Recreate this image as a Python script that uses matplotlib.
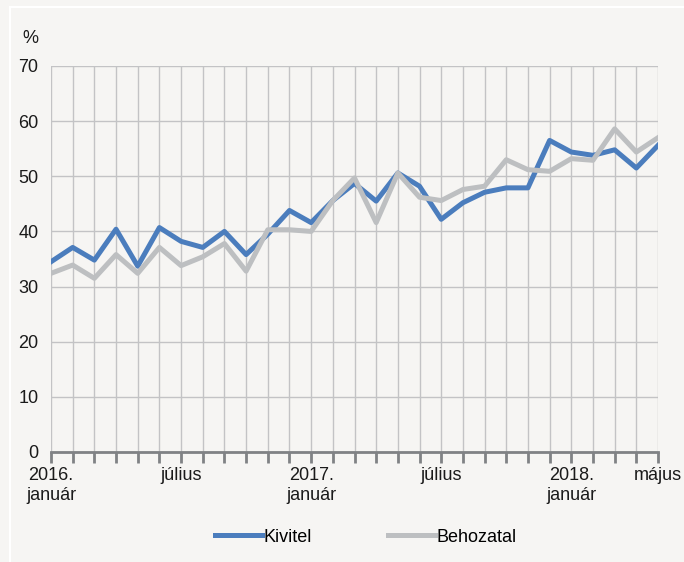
import matplotlib.pyplot as plt
from matplotlib.patches import Rectangle
from matplotlib import font_manager

# keskeny betű, ha van; különben Liberation Sans
csaladok = {f.name for f in font_manager.fontManager.ttflist}
if "Liberation Sans Narrow" in csaladok:
    betu = ["Liberation Sans Narrow", "DejaVu Sans"]
    meret = 14
else:
    betu = ["Liberation Sans", "DejaVu Sans"]
    meret = 13
plt.rcParams['font.family'] = betu

# havi adatok, 2016. január - 2018. május
honapok = list(range(29))
kivitel = [34.5, 37.1, 34.8, 40.4, 33.7, 40.7, 38.2, 37.1, 40.0, 35.8,
           39.5, 43.8, 41.6, 45.6, 48.7, 45.5, 50.6, 48.2, 42.2, 45.2,
           47.1, 47.9, 47.9, 56.5, 54.4, 53.8, 54.8, 51.5, 55.6]
behozatal = [32.4, 33.9, 31.5, 35.8, 32.4, 37.1, 33.8, 35.4, 37.8, 32.8,
             40.3, 40.3, 40.0, 45.6, 49.7, 41.6, 50.6, 46.2, 45.6, 47.6,
             48.2, 53.0, 51.2, 50.9, 53.2, 52.9, 58.6, 54.4, 57.0]
cimkek = {0: "2016.\njanuár", 6: "július", 12: "2017.\njanuár",
          18: "július", 24: "2018.\njanuár", 28: "május"}

hatter = "#f6f5f3"
kek = "#4b7dbd"
szurke = "#bdbfc1"

fig = plt.figure(figsize=(6.84, 5.62), dpi=100, facecolor=hatter)
fig.patches.append(Rectangle((10 / 684, -0.1), 1.2, 1 - 7 / 562 + 0.1,
                             transform=fig.transFigure, facecolor="none",
                             edgecolor="white", linewidth=1.5))
ax = fig.add_axes([51 / 684, 1 - 452 / 562, 607 / 684, 386 / 562])
ax.set_facecolor(hatter)

ax.plot(honapok, kivitel, color=kek, lw=3.6, label="Kivitel", zorder=3)
ax.plot(honapok, behozatal, color=szurke, lw=3.6, label="Behozatal", zorder=3)

ax.set_xlim(0, 28)
ax.set_ylim(0, 70)
ax.set_yticks(range(0, 71, 10))
ax.set_xticks(honapok)
ax.set_xticklabels([cimkek.get(h, "") for h in honapok])
ax.grid(True, color="#c3c3c5", lw=1, zorder=1)
for s in ["top", "right", "left"]:
    ax.spines[s].set_visible(False)
ax.spines["bottom"].set_color("#808285")
ax.spines["bottom"].set_linewidth(2)
ax.spines["bottom"].set_zorder(4)
ax.tick_params(axis="x", length=8, width=2, color="#808285", pad=3,
               labelsize=meret, labelcolor="#1a1a1a")
ax.tick_params(axis="y", length=0, pad=9, labelsize=meret, labelcolor="#1a1a1a")

fig.text(22 / 684, 1 - 43 / 562, "%", fontsize=meret, color="#1a1a1a")

leg = fig.legend(loc="center", bbox_to_anchor=(366 / 684, 1 - 537 / 562), ncol=2,
                 frameon=False, fontsize=meret, handlelength=2.6, handletextpad=0.1,
                 columnspacing=4.2)

fig.savefig("out.png", dpi=100, facecolor=hatter)
